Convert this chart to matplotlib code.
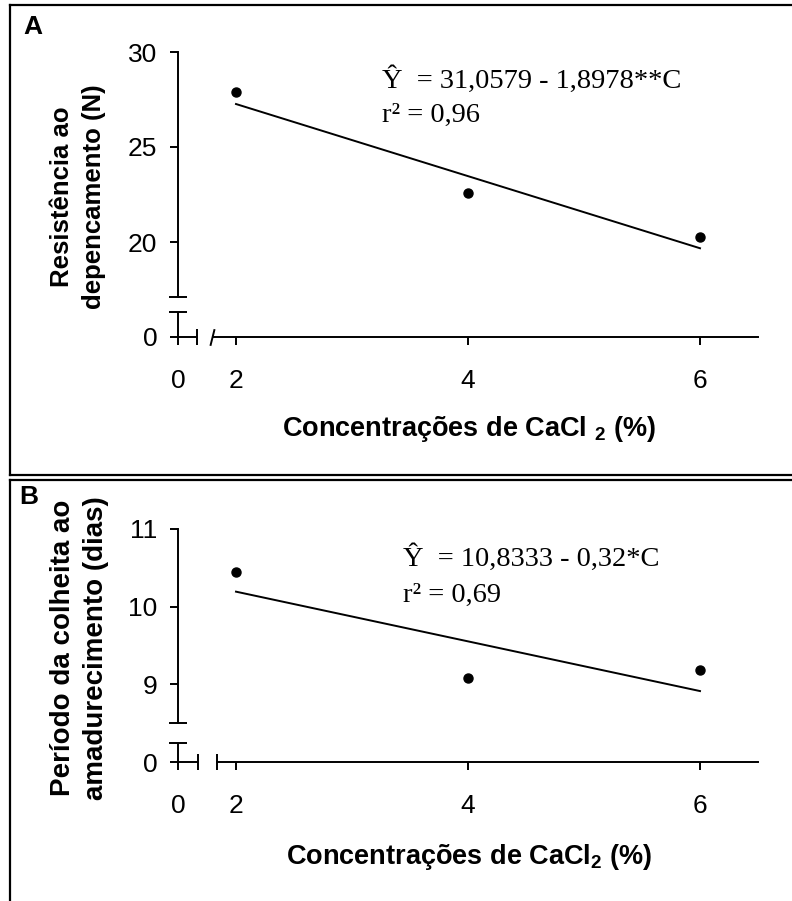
import numpy as np
import matplotlib
matplotlib.use("Agg")
import matplotlib.pyplot as plt
from matplotlib.lines import Line2D

# --- Data ---
conc = [2, 4, 6]                      # CaCl2 concentration (%)
resistencia = [27.9, 22.6, 20.25]     # panel A, N
periodo = [10.45, 9.08, 9.18]         # panel B, days

# regression coefficients printed on the chart
coef_a = (31.0579, -1.8978)
coef_b = (10.8333, -0.32)

eq_a = ["Ŷ  = 31,0579 - 1,8978**C", "r² = 0,96"]
eq_b = ["Ŷ  = 10,8333 - 0,32*C", "r² = 0,69"]

ylabel_a = "Resistência ao\ndepencamento (N)"
ylabel_b = "Período da colheita ao\namadurecimento (dias)"
xlabel_a = r"Concentrações de CaCl $_{\mathbf{2}}$ (%)"
xlabel_b = r"Concentrações de CaCl$_{\mathbf{2}}$ (%)"

plt.rcParams['font.family'] = ['Liberation Sans', 'DejaVu Sans']
plt.rcParams['mathtext.fontset'] = 'custom'
plt.rcParams['mathtext.rm'] = 'Liberation Sans'
plt.rcParams['mathtext.bf'] = 'Liberation Sans:bold'

W, H = 792, 901
fig = plt.figure(figsize=(W / 100, H / 100), dpi=100)
LW = 1.4
EQ_SIZE = 20.5


def fx(px):
    return px / W


def fy(py):
    return 1 - py / H


def broken_panel(top_px, bot_px, ylim, yticks, ytick_labels, ybreak, xbreak, slash):
    ax = fig.add_axes([fx(178), fy(bot_px), fx(758) - fx(178), fy(top_px) - fy(bot_px)])
    ax.set_xlim(1.5, 6.5)
    ax.set_ylim(*ylim)
    for s in ['top', 'right']:
        ax.spines[s].set_visible(False)
    ax.spines['left'].set_bounds(ybreak[0], ylim[1])
    ax.spines['bottom'].set_bounds(xbreak[1], 6.5)
    for s in ['left', 'bottom']:
        ax.spines[s].set_linewidth(LW)
    ax.set_xticks([1.5, 2, 4, 6])
    ax.set_xticklabels(['0', '2', '4', '6'])
    ax.set_yticks(yticks)
    ax.set_yticklabels(ytick_labels)
    ax.tick_params(axis='both', direction='out', length=6, width=LW, labelsize=19)
    ax.tick_params(axis='y', pad=9)
    ax.tick_params(axis='x', pad=17)

    # short segments below / left of the breaks
    k = dict(color='black', lw=LW, clip_on=False, solid_capstyle='butt')
    ax.plot([1.5, 1.5], [ylim[0], ybreak[1]], **k)
    ax.plot([1.5, xbreak[0]], [ylim[0], ylim[0]], **k)
    # break caps
    m = dict(color='black', mew=LW, clip_on=False, ls='none')
    ax.plot([1.5, 1.5], [ybreak[0], ybreak[1]], marker='_', ms=13, **m)
    ax.plot([xbreak[0]], [ylim[0]], marker='|', ms=12, **m)
    if slash:
        ax.plot([xbreak[1] - 0.01], [ylim[0]], marker=[(-0.25, -1), (0.25, 1)], ms=12,
                mfc='none', **m)
    else:
        ax.plot([xbreak[1]], [ylim[0]], marker='|', ms=12, **m)
    return ax


# --- Panel A ---
axA = broken_panel(52, 337, (15, 30), [15, 20, 25, 30], ['0', '20', '25', '30'],
                   (17.1, 16.3), (1.66, 1.80), slash=True)
axA.plot(conc, resistencia, 'o', color='black', ms=6.5, clip_on=False)
xfit = np.array([conc[0], conc[-1]])
axA.plot(xfit, coef_a[0] + coef_a[1] * xfit, color='black', lw=LW)
axA.text(0.352, 0.902, eq_a[0], transform=axA.transAxes, family='Liberation Serif',
         fontsize=EQ_SIZE, va='center', ha='left')
axA.text(0.352, 0.779, eq_a[1], transform=axA.transAxes, family='Liberation Serif',
         fontsize=EQ_SIZE, va='center', ha='left')

# --- Panel B ---
axB = broken_panel(529, 762, (8, 11), [8, 9, 10, 11], ['0', '9', '10', '11'],
                   (8.5, 8.25), (1.67, 1.84), slash=False)
axB.plot(conc, periodo, 'o', color='black', ms=6.5, clip_on=False)
axB.plot(xfit, coef_b[0] + coef_b[1] * xfit, color='black', lw=LW)
axB.text(0.388, 0.876, eq_b[0], transform=axB.transAxes, family='Liberation Serif',
         fontsize=EQ_SIZE, va='center', ha='left')
axB.text(0.388, 0.717, eq_b[1], transform=axB.transAxes, family='Liberation Serif',
         fontsize=EQ_SIZE, va='center', ha='left')

# axis titles and panel letters
fig.text(fx(78), fy(197), ylabel_a, rotation=90, ha='center', va='center',
         fontsize=18.5, fontweight='bold', linespacing=1.45, multialignment='center')
fig.text(fx(80), fy(648), ylabel_b, rotation=90, ha='center', va='center',
         fontsize=20, fontweight='bold', linespacing=1.35, multialignment='center')
fig.text(fx(469), fy(429), xlabel_a, ha='center', va='center', fontsize=19.5, fontweight='bold')
fig.text(fx(469), fy(857), xlabel_b, ha='center', va='center', fontsize=19.5, fontweight='bold')
fig.text(fx(33), fy(27), 'A', ha='center', va='center', fontsize=19, fontweight='bold')
fig.text(fx(29), fy(497), 'B', ha='center', va='center', fontsize=19, fontweight='bold')

# panel frames (open on the right / bottom edge as in the original)
fk = dict(color='black', lw=1.6, transform=fig.transFigure)
fig.add_artist(Line2D([fx(10), 1.0], [fy(5), fy(5)], **fk))
fig.add_artist(Line2D([fx(10), fx(10)], [fy(5), fy(475)], **fk))
fig.add_artist(Line2D([fx(10), 1.0], [fy(475), fy(475)], **fk))
fig.add_artist(Line2D([fx(10), 1.0], [fy(480), fy(480)], **fk))
fig.add_artist(Line2D([fx(10), fx(10)], [fy(480), 0.0], **fk))

plt.savefig('out.png', dpi=100)
